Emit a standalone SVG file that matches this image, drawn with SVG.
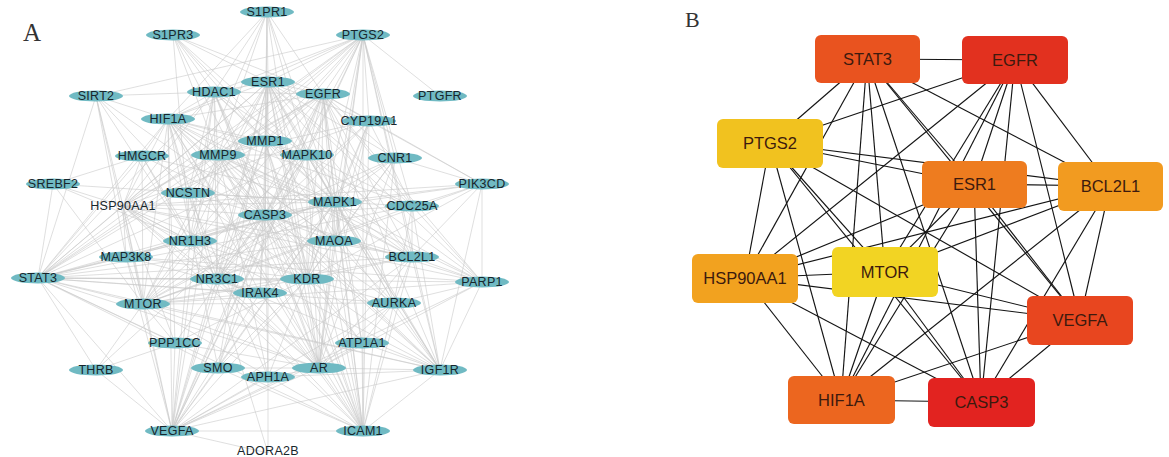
<svg xmlns="http://www.w3.org/2000/svg" width="1169" height="457" viewBox="0 0 1169 457">
<style>
.ea path{stroke:#cacaca;stroke-width:.6;fill:none}
.eb path{stroke:#141414;stroke-width:1.15;fill:none}
.na ellipse{fill:#70bac3}
.na text{font-family:"Liberation Sans",Arial,sans-serif;font-size:12.5px;fill:#17262c;text-anchor:middle;letter-spacing:.3px}
.nb rect{stroke-width:0}
.nb text{font-family:"Liberation Sans",Arial,sans-serif;font-size:16.5px;fill:#3d1a0e;text-anchor:middle}
.lbl{font-family:"Liberation Serif","Times New Roman",serif;fill:#333}
</style>
<rect width="1169" height="457" fill="#ffffff"/>
<text class="lbl" x="23" y="41" font-size="25">A</text>
<text class="lbl" x="685" y="27" font-size="22">B</text>

<g id="edges-A" class="ea">
<path d="M363 35L268 82"/><path d="M363 35L214 92"/><path d="M363 35L323 94"/><path d="M363 35L168 119"/><path d="M363 35L265 141"/><path d="M363 35L218 155"/><path d="M363 35L307 155"/><path d="M363 35L369 121"/><path d="M363 35L395 158"/><path d="M363 35L265 215"/><path d="M363 35L335 202"/><path d="M363 35L440 96"/><path d="M363 35L190 241"/><path d="M363 35L307 279"/><path d="M363 35L123 206"/><path d="M363 35L188 193"/><path d="M363 35L412 206"/><path d="M363 35L363 431"/><path d="M363 35L319 368"/><path d="M363 35L38 278"/><path d="M363 35L172 431"/><path d="M363 35L412 257"/><path d="M363 35L334 241"/><path d="M363 35L440 370"/><path d="M363 35L96 96"/>
<path d="M267 12L214 92"/><path d="M267 12L168 119"/><path d="M267 12L268 82"/><path d="M267 12L265 141"/><path d="M267 12L265 215"/><path d="M267 12L307 155"/><path d="M267 12L323 94"/><path d="M267 12L335 202"/><path d="M267 12L188 193"/><path d="M267 12L307 279"/><path d="M267 12L218 155"/>
<path d="M173 35L214 92"/><path d="M173 35L268 82"/><path d="M173 35L265 141"/><path d="M173 35L265 215"/><path d="M173 35L323 94"/><path d="M173 35L335 202"/><path d="M173 35L218 155"/><path d="M173 35L190 241"/><path d="M173 35L307 155"/>
<path d="M96 96L214 92"/><path d="M96 96L168 119"/><path d="M96 96L123 206"/><path d="M96 96L38 278"/><path d="M96 96L188 193"/><path d="M96 96L143 304"/><path d="M96 96L265 215"/><path d="M96 96L126 257"/><path d="M96 96L190 241"/>
<path d="M214 92L268 82"/><path d="M214 92L168 119"/><path d="M214 92L218 155"/><path d="M214 92L265 141"/><path d="M214 92L265 215"/><path d="M214 92L335 202"/><path d="M214 92L123 206"/><path d="M214 92L188 193"/><path d="M214 92L190 241"/><path d="M214 92L307 279"/><path d="M214 92L319 368"/><path d="M214 92L217 279"/><path d="M214 92L323 94"/><path d="M214 92L307 155"/><path d="M214 92L38 278"/><path d="M214 92L363 431"/><path d="M214 92L172 431"/>
<path d="M268 82L323 94"/><path d="M268 82L168 119"/><path d="M268 82L265 141"/><path d="M268 82L218 155"/><path d="M268 82L307 155"/><path d="M268 82L265 215"/><path d="M268 82L335 202"/><path d="M268 82L369 121"/><path d="M268 82L395 158"/><path d="M268 82L123 206"/><path d="M268 82L190 241"/><path d="M268 82L217 279"/><path d="M268 82L307 279"/><path d="M268 82L319 368"/><path d="M268 82L440 370"/><path d="M268 82L172 431"/><path d="M268 82L38 278"/><path d="M268 82L143 304"/><path d="M268 82L412 257"/><path d="M268 82L334 241"/><path d="M268 82L482 282"/><path d="M268 82L363 431"/><path d="M268 82L260 293"/><path d="M268 82L218 368"/><path d="M268 82L268 377"/><path d="M268 82L412 206"/>
<path d="M323 94L168 119"/><path d="M323 94L265 141"/><path d="M323 94L218 155"/><path d="M323 94L307 155"/><path d="M323 94L265 215"/><path d="M323 94L335 202"/><path d="M323 94L369 121"/><path d="M323 94L395 158"/><path d="M323 94L412 206"/><path d="M323 94L307 279"/><path d="M323 94L319 368"/><path d="M323 94L440 370"/><path d="M323 94L38 278"/><path d="M323 94L143 304"/><path d="M323 94L123 206"/><path d="M323 94L172 431"/><path d="M323 94L412 257"/><path d="M323 94L482 282"/><path d="M323 94L394 303"/><path d="M323 94L363 431"/><path d="M323 94L482 184"/><path d="M323 94L217 279"/><path d="M323 94L334 241"/><path d="M323 94L362 343"/><path d="M323 94L218 368"/>
<path d="M168 119L218 155"/><path d="M168 119L265 141"/><path d="M168 119L142 156"/><path d="M168 119L265 215"/><path d="M168 119L335 202"/><path d="M168 119L307 279"/><path d="M168 119L172 431"/><path d="M168 119L38 278"/><path d="M168 119L143 304"/><path d="M168 119L123 206"/><path d="M168 119L217 279"/><path d="M168 119L188 193"/><path d="M168 119L319 368"/><path d="M168 119L440 370"/><path d="M168 119L412 257"/><path d="M168 119L307 155"/><path d="M168 119L260 293"/><path d="M168 119L363 431"/><path d="M168 119L175 343"/><path d="M168 119L218 368"/><path d="M168 119L412 206"/><path d="M168 119L334 241"/>
<path d="M369 121L335 202"/><path d="M369 121L265 215"/><path d="M369 121L319 368"/><path d="M369 121L334 241"/><path d="M369 121L412 206"/><path d="M369 121L307 279"/><path d="M369 121L363 431"/><path d="M369 121L217 279"/><path d="M369 121L123 206"/><path d="M369 121L482 184"/><path d="M369 121L218 155"/>
<path d="M265 141L218 155"/><path d="M265 141L265 215"/><path d="M265 141L335 202"/><path d="M265 141L307 279"/><path d="M265 141L307 155"/><path d="M265 141L172 431"/><path d="M265 141L363 431"/><path d="M265 141L38 278"/><path d="M265 141L319 368"/><path d="M265 141L440 370"/><path d="M265 141L217 279"/>
<path d="M218 155L265 215"/><path d="M218 155L335 202"/><path d="M218 155L307 279"/><path d="M218 155L172 431"/><path d="M218 155L363 431"/><path d="M218 155L38 278"/><path d="M218 155L190 241"/><path d="M218 155L307 155"/><path d="M218 155L319 368"/><path d="M218 155L440 370"/><path d="M218 155L143 304"/><path d="M218 155L217 279"/><path d="M218 155L123 206"/><path d="M218 155L268 377"/><path d="M218 155L412 257"/><path d="M218 155L482 282"/><path d="M218 155L334 241"/>
<path d="M142 156L53 184"/><path d="M142 156L190 241"/><path d="M142 156L123 206"/><path d="M142 156L143 304"/><path d="M142 156L265 215"/><path d="M142 156L335 202"/><path d="M142 156L217 279"/><path d="M142 156L38 278"/>
<path d="M307 155L335 202"/><path d="M307 155L265 215"/><path d="M307 155L307 279"/><path d="M307 155L38 278"/><path d="M307 155L319 368"/><path d="M307 155L412 257"/><path d="M307 155L143 304"/><path d="M307 155L172 431"/><path d="M307 155L363 431"/><path d="M307 155L440 370"/><path d="M307 155L217 279"/><path d="M307 155L412 206"/><path d="M307 155L394 303"/><path d="M307 155L482 282"/>
<path d="M395 158L335 202"/><path d="M395 158L265 215"/><path d="M395 158L334 241"/><path d="M395 158L482 184"/><path d="M395 158L307 279"/><path d="M395 158L363 431"/><path d="M395 158L319 368"/><path d="M395 158L143 304"/>
<path d="M53 184L190 241"/><path d="M53 184L38 278"/><path d="M53 184L143 304"/><path d="M53 184L123 206"/><path d="M53 184L335 202"/>
<path d="M482 184L335 202"/><path d="M482 184L412 206"/><path d="M482 184L482 282"/><path d="M482 184L143 304"/><path d="M482 184L265 215"/><path d="M482 184L307 279"/><path d="M482 184L412 257"/><path d="M482 184L440 370"/><path d="M482 184L123 206"/>
<path d="M188 193L268 377"/><path d="M188 193L265 215"/><path d="M188 193L335 202"/><path d="M188 193L190 241"/><path d="M188 193L307 279"/><path d="M188 193L268 453"/>
<path d="M335 202L265 215"/><path d="M335 202L412 206"/><path d="M335 202L334 241"/><path d="M335 202L412 257"/><path d="M335 202L307 279"/><path d="M335 202L38 278"/><path d="M335 202L143 304"/><path d="M335 202L123 206"/><path d="M335 202L217 279"/><path d="M335 202L319 368"/><path d="M335 202L440 370"/><path d="M335 202L482 282"/><path d="M335 202L394 303"/><path d="M335 202L172 431"/><path d="M335 202L363 431"/><path d="M335 202L260 293"/><path d="M335 202L126 257"/><path d="M335 202L362 343"/><path d="M335 202L218 368"/><path d="M335 202L190 241"/>
<path d="M412 206L265 215"/><path d="M412 206L394 303"/><path d="M412 206L412 257"/><path d="M412 206L143 304"/><path d="M412 206L482 282"/><path d="M412 206L38 278"/><path d="M412 206L440 370"/>
<path d="M123 206L265 215"/><path d="M123 206L38 278"/><path d="M123 206L143 304"/><path d="M123 206L217 279"/><path d="M123 206L319 368"/><path d="M123 206L307 279"/><path d="M123 206L172 431"/><path d="M123 206L440 370"/><path d="M123 206L412 257"/><path d="M123 206L126 257"/><path d="M123 206L175 343"/><path d="M123 206L363 431"/><path d="M123 206L190 241"/><path d="M123 206L482 282"/><path d="M123 206L260 293"/>
<path d="M265 215L334 241"/><path d="M265 215L412 257"/><path d="M265 215L307 279"/><path d="M265 215L38 278"/><path d="M265 215L143 304"/><path d="M265 215L217 279"/><path d="M265 215L319 368"/><path d="M265 215L440 370"/><path d="M265 215L482 282"/><path d="M265 215L394 303"/><path d="M265 215L172 431"/><path d="M265 215L363 431"/><path d="M265 215L260 293"/><path d="M265 215L190 241"/><path d="M265 215L126 257"/><path d="M265 215L362 343"/><path d="M265 215L218 368"/><path d="M265 215L268 377"/><path d="M265 215L96 370"/><path d="M265 215L175 343"/>
<path d="M190 241L38 278"/><path d="M190 241L217 279"/><path d="M190 241L143 304"/><path d="M190 241L307 279"/><path d="M190 241L172 431"/><path d="M190 241L319 368"/>
<path d="M334 241L307 279"/><path d="M334 241L319 368"/><path d="M334 241L412 257"/><path d="M334 241L38 278"/><path d="M334 241L394 303"/><path d="M334 241L363 431"/>
<path d="M126 257L38 278"/><path d="M126 257L143 304"/><path d="M126 257L260 293"/><path d="M126 257L307 279"/><path d="M126 257L482 282"/><path d="M126 257L172 431"/>
<path d="M412 257L307 279"/><path d="M412 257L38 278"/><path d="M412 257L143 304"/><path d="M412 257L482 282"/><path d="M412 257L394 303"/><path d="M412 257L319 368"/><path d="M412 257L440 370"/><path d="M412 257L172 431"/><path d="M412 257L363 431"/>
<path d="M38 278L217 279"/><path d="M38 278L307 279"/><path d="M38 278L143 304"/><path d="M38 278L260 293"/><path d="M38 278L172 431"/><path d="M38 278L319 368"/><path d="M38 278L440 370"/><path d="M38 278L482 282"/><path d="M38 278L96 370"/><path d="M38 278L175 343"/><path d="M38 278L363 431"/><path d="M38 278L394 303"/><path d="M38 278L218 368"/>
<path d="M217 279L307 279"/><path d="M217 279L319 368"/><path d="M217 279L143 304"/><path d="M217 279L172 431"/><path d="M217 279L260 293"/><path d="M217 279L440 370"/><path d="M217 279L363 431"/>
<path d="M307 279L319 368"/><path d="M307 279L440 370"/><path d="M307 279L172 431"/><path d="M307 279L143 304"/><path d="M307 279L394 303"/><path d="M307 279L363 431"/><path d="M307 279L175 343"/><path d="M307 279L218 368"/><path d="M307 279L362 343"/><path d="M307 279L268 377"/>
<path d="M482 282L394 303"/><path d="M482 282L440 370"/><path d="M482 282L319 368"/><path d="M482 282L172 431"/><path d="M482 282L143 304"/>
<path d="M260 293L319 368"/><path d="M260 293L172 431"/><path d="M260 293L143 304"/><path d="M260 293L363 431"/>
<path d="M143 304L172 431"/><path d="M143 304L319 368"/><path d="M143 304L440 370"/><path d="M143 304L96 370"/><path d="M143 304L175 343"/><path d="M143 304L363 431"/><path d="M143 304L394 303"/>
<path d="M394 303L440 370"/><path d="M394 303L319 368"/><path d="M394 303L363 431"/><path d="M394 303L362 343"/><path d="M394 303L172 431"/>
<path d="M175 343L172 431"/><path d="M175 343L96 370"/><path d="M175 343L319 368"/>
<path d="M362 343L363 431"/><path d="M362 343L440 370"/><path d="M362 343L319 368"/><path d="M362 343L172 431"/>
<path d="M96 370L172 431"/>
<path d="M218 368L172 431"/><path d="M218 368L319 368"/><path d="M218 368L363 431"/>
<path d="M319 368L440 370"/><path d="M319 368L172 431"/><path d="M319 368L363 431"/><path d="M319 368L268 377"/>
<path d="M268 377L268 453"/><path d="M268 377L172 431"/><path d="M268 377L440 370"/>
<path d="M440 370L172 431"/><path d="M440 370L363 431"/>
<path d="M172 431L363 431"/><path d="M172 431L268 453"/>
</g>

<g id="nodes-A" class="na">
<g id="a-S1PR1"><ellipse cx="267" cy="12" rx="27" ry="5.5"/><text x="267" y="16">S1PR1</text></g>
<g id="a-S1PR3"><ellipse cx="173" cy="35" rx="27" ry="5.5"/><text x="173" y="39">S1PR3</text></g>
<g id="a-PTGS2"><ellipse cx="363" cy="35" rx="27" ry="5.5"/><text x="363" y="39">PTGS2</text></g>
<g id="a-ESR1"><ellipse cx="268" cy="82" rx="27" ry="5.5"/><text x="268" y="86">ESR1</text></g>
<g id="a-HDAC1"><ellipse cx="214" cy="92" rx="27" ry="5.5"/><text x="214" y="96">HDAC1</text></g>
<g id="a-EGFR"><ellipse cx="323" cy="94" rx="27" ry="5.5"/><text x="323" y="98">EGFR</text></g>
<g id="a-SIRT2"><ellipse cx="96" cy="96" rx="27" ry="5.5"/><text x="96" y="100">SIRT2</text></g>
<g id="a-PTGFR"><ellipse cx="440" cy="96" rx="27" ry="5.5"/><text x="440" y="100">PTGFR</text></g>
<g id="a-HIF1A"><ellipse cx="168" cy="119" rx="27" ry="5.5"/><text x="168" y="123">HIF1A</text></g>
<g id="a-CYP19A1"><ellipse cx="369" cy="121" rx="27" ry="5.5"/><text x="369" y="125">CYP19A1</text></g>
<g id="a-MMP1"><ellipse cx="265" cy="141" rx="27" ry="5.5"/><text x="265" y="145">MMP1</text></g>
<g id="a-MMP9"><ellipse cx="218" cy="155" rx="27" ry="5.5"/><text x="218" y="159">MMP9</text></g>
<g id="a-HMGCR"><ellipse cx="142" cy="156" rx="27" ry="5.5"/><text x="142" y="160">HMGCR</text></g>
<g id="a-MAPK10"><ellipse cx="307" cy="155" rx="27" ry="5.5"/><text x="307" y="159">MAPK10</text></g>
<g id="a-CNR1"><ellipse cx="395" cy="158" rx="27" ry="5.5"/><text x="395" y="162">CNR1</text></g>
<g id="a-SREBF2"><ellipse cx="53" cy="184" rx="27" ry="5.5"/><text x="53" y="188">SREBF2</text></g>
<g id="a-PIK3CD"><ellipse cx="482" cy="184" rx="27" ry="5.5"/><text x="482" y="188">PIK3CD</text></g>
<g id="a-NCSTN"><ellipse cx="188" cy="193" rx="27" ry="5.5"/><text x="188" y="197">NCSTN</text></g>
<g id="a-MAPK1"><ellipse cx="335" cy="202" rx="27" ry="5.5"/><text x="335" y="206">MAPK1</text></g>
<g id="a-CDC25A"><ellipse cx="412" cy="206" rx="27" ry="5.5"/><text x="412" y="210">CDC25A</text></g>
<g id="a-HSP90AA1"><text x="123" y="210">HSP90AA1</text></g>
<g id="a-CASP3"><ellipse cx="265" cy="215" rx="27" ry="5.5"/><text x="265" y="219">CASP3</text></g>
<g id="a-NR1H3"><ellipse cx="190" cy="241" rx="27" ry="5.5"/><text x="190" y="245">NR1H3</text></g>
<g id="a-MAOA"><ellipse cx="334" cy="241" rx="27" ry="5.5"/><text x="334" y="245">MAOA</text></g>
<g id="a-MAP3K8"><ellipse cx="126" cy="257" rx="27" ry="5.5"/><text x="126" y="261">MAP3K8</text></g>
<g id="a-BCL2L1"><ellipse cx="412" cy="257" rx="27" ry="5.5"/><text x="412" y="261">BCL2L1</text></g>
<g id="a-STAT3"><ellipse cx="38" cy="278" rx="27" ry="5.5"/><text x="38" y="282">STAT3</text></g>
<g id="a-NR3C1"><ellipse cx="217" cy="279" rx="27" ry="5.5"/><text x="217" y="283">NR3C1</text></g>
<g id="a-KDR"><ellipse cx="307" cy="279" rx="27" ry="5.5"/><text x="307" y="283">KDR</text></g>
<g id="a-PARP1"><ellipse cx="482" cy="282" rx="27" ry="5.5"/><text x="482" y="286">PARP1</text></g>
<g id="a-IRAK4"><ellipse cx="260" cy="293" rx="27" ry="5.5"/><text x="260" y="297">IRAK4</text></g>
<g id="a-MTOR"><ellipse cx="143" cy="304" rx="27" ry="5.5"/><text x="143" y="308">MTOR</text></g>
<g id="a-AURKA"><ellipse cx="394" cy="303" rx="27" ry="5.5"/><text x="394" y="307">AURKA</text></g>
<g id="a-PPP1CC"><ellipse cx="175" cy="343" rx="27" ry="5.5"/><text x="175" y="347">PPP1CC</text></g>
<g id="a-ATP1A1"><ellipse cx="362" cy="343" rx="27" ry="5.5"/><text x="362" y="347">ATP1A1</text></g>
<g id="a-THRB"><ellipse cx="96" cy="370" rx="27" ry="5.5"/><text x="96" y="374">THRB</text></g>
<g id="a-SMO"><ellipse cx="218" cy="368" rx="27" ry="5.5"/><text x="218" y="372">SMO</text></g>
<g id="a-AR"><ellipse cx="319" cy="368" rx="27" ry="5.5"/><text x="319" y="372">AR</text></g>
<g id="a-APH1A"><ellipse cx="268" cy="377" rx="27" ry="5.5"/><text x="268" y="381">APH1A</text></g>
<g id="a-IGF1R"><ellipse cx="440" cy="370" rx="27" ry="5.5"/><text x="440" y="374">IGF1R</text></g>
<g id="a-VEGFA"><ellipse cx="172" cy="431" rx="27" ry="5.5"/><text x="172" y="435">VEGFA</text></g>
<g id="a-ICAM1"><ellipse cx="363" cy="431" rx="27" ry="5.5"/><text x="363" y="435">ICAM1</text></g>
<g id="a-ADORA2B"><text x="268" y="455">ADORA2B</text></g>
</g>

<g id="edges-B" class="eb">
<path d="M867 59L1015 60"/><path d="M867 59L770 143"/><path d="M867 59L974 184"/><path d="M867 59L1110 186"/><path d="M867 59L745 278"/><path d="M867 59L885 272"/><path d="M867 59L841 400"/><path d="M867 59L1080 320"/><path d="M867 59L981 402"/>
<path d="M1015 60L770 143"/><path d="M1015 60L974 184"/><path d="M1015 60L1110 186"/><path d="M1015 60L745 278"/><path d="M1015 60L885 272"/><path d="M1015 60L841 400"/><path d="M1015 60L1080 320"/><path d="M1015 60L981 402"/>
<path d="M770 143L974 184"/><path d="M770 143L1110 186"/><path d="M770 143L745 278"/><path d="M770 143L885 272"/><path d="M770 143L841 400"/><path d="M770 143L1080 320"/><path d="M770 143L981 402"/>
<path d="M974 184L1110 186"/><path d="M974 184L745 278"/><path d="M974 184L885 272"/><path d="M974 184L841 400"/><path d="M974 184L1080 320"/><path d="M974 184L981 402"/>
<path d="M1110 186L745 278"/><path d="M1110 186L885 272"/><path d="M1110 186L841 400"/><path d="M1110 186L1080 320"/><path d="M1110 186L981 402"/>
<path d="M745 278L885 272"/><path d="M745 278L841 400"/><path d="M745 278L1080 320"/><path d="M745 278L981 402"/>
<path d="M885 272L841 400"/><path d="M885 272L1080 320"/><path d="M885 272L981 402"/>
<path d="M841 400L1080 320"/><path d="M841 400L981 402"/>
<path d="M1080 320L981 402"/>
</g>

<g id="nodes-B" class="nb">
<g id="b-STAT3"><rect x="815" y="35" width="105" height="48" rx="6" fill="#e9531f"/><text x="867.5" y="65">STAT3</text></g>
<g id="b-EGFR"><rect x="962" y="36" width="106" height="48" rx="6" fill="#e2311f"/><text x="1015" y="66">EGFR</text></g>
<g id="b-PTGS2"><rect x="717" y="119" width="106" height="49" rx="6" fill="#f1c21f"/><text x="770" y="149">PTGS2</text></g>
<g id="b-ESR1"><rect x="922" y="161" width="105" height="47" rx="6" fill="#ee7c1f"/><text x="974.5" y="190">ESR1</text></g>
<g id="b-BCL2L1"><rect x="1058" y="162" width="105" height="49" rx="6" fill="#f29b20"/><text x="1110.5" y="192">BCL2L1</text></g>
<g id="b-HSP90AA1"><rect x="692" y="254" width="106" height="49" rx="6" fill="#f2a21f"/><text x="745" y="284">HSP90AA1</text></g>
<g id="b-MTOR"><rect x="832" y="247" width="106" height="50" rx="6" fill="#f2d423"/><text x="885" y="278">MTOR</text></g>
<g id="b-HIF1A"><rect x="788" y="376" width="107" height="48" rx="6" fill="#ec661f"/><text x="841.5" y="406">HIF1A</text></g>
<g id="b-VEGFA"><rect x="1027" y="296" width="106" height="49" rx="6" fill="#e8461f"/><text x="1080" y="326">VEGFA</text></g>
<g id="b-CASP3"><rect x="928" y="378" width="107" height="49" rx="6" fill="#e22320"/><text x="981.5" y="408">CASP3</text></g>
</g>
</svg>
